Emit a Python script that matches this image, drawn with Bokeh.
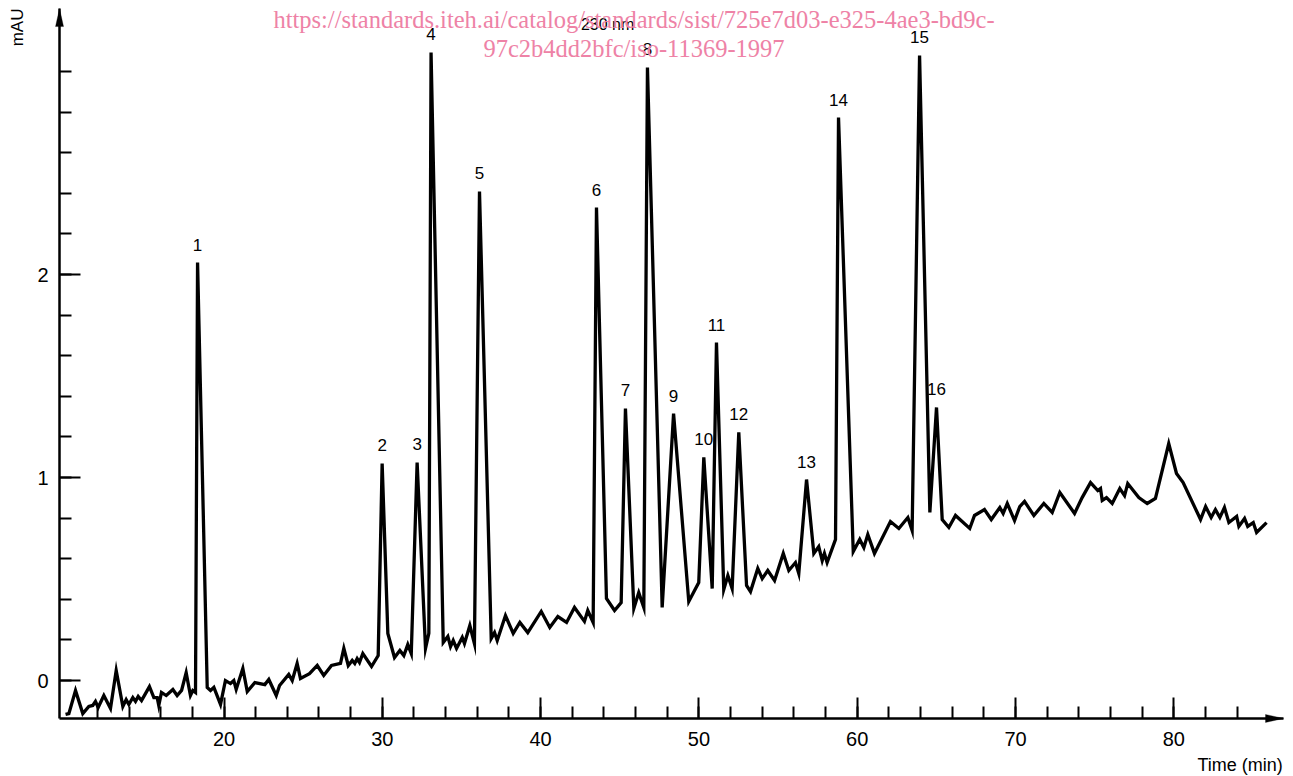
import numpy as np
from bokeh.plotting import figure
from bokeh.models import Range1d, FixedTicker, Label, PolyAnnotation, ColumnDataSource
from bokeh.embed import file_html
from bokeh.resources import INLINE
from bokeh.core.properties import value

# ---- data (time in min, signal in mAU) ----
time_min = [
    9.99, 10.20, 10.62, 11.08, 11.46, 11.71, 11.88, 12.05, 12.41, 12.83,
    13.19, 13.61, 13.82, 13.99, 14.24, 14.41, 14.58, 14.79, 15.29, 15.57,
    15.78, 15.88, 16.05, 16.35, 16.77, 17.04, 17.32, 17.61, 17.88, 18.03,
    18.20, 18.33, 18.94, 19.15, 19.36, 19.78, 20.09, 20.41, 20.62, 20.77,
    21.19, 21.47, 21.95, 22.58, 22.83, 23.30, 23.51, 24.09, 24.31, 24.62,
    24.83, 25.40, 25.89, 26.30, 26.79, 27.36, 27.57, 27.85, 28.10, 28.26,
    28.41, 28.56, 28.77, 29.32, 29.74, 29.99, 30.35, 30.77, 31.11, 31.36,
    31.61, 31.83, 32.20, 32.73, 32.94, 33.08, 33.85, 34.14, 34.31, 34.48,
    34.69, 35.05, 35.19, 35.53, 35.82, 36.14, 36.88, 37.09, 37.26, 37.78,
    38.27, 38.69, 39.19, 40.04, 40.58, 41.09, 41.64, 42.14, 42.77, 42.98,
    43.32, 43.53, 44.16, 44.67, 45.09, 45.36, 45.89, 46.20, 46.52, 46.75,
    47.68, 48.40, 49.36, 49.99, 50.31, 50.84, 51.11, 51.57, 51.83, 52.10,
    52.52, 53.01, 53.26, 53.72, 54.00, 54.35, 54.78, 55.33, 55.68, 56.10,
    56.31, 56.80, 57.26, 57.57, 57.79, 57.93, 58.10, 58.63, 58.82, 59.75,
    60.16, 60.42, 60.67, 61.09, 62.10, 62.63, 63.20, 63.47, 63.94, 64.59,
    65.01, 65.37, 65.79, 66.21, 67.11, 67.41, 68.04, 68.47, 69.01, 69.22,
    69.48, 69.94, 70.27, 70.57, 71.16, 71.79, 72.32, 72.80, 73.73, 74.21,
    74.74, 75.20, 75.37, 75.48, 75.75, 76.11, 76.59, 76.89, 77.09, 77.79,
    78.32, 78.84, 79.68, 80.17, 80.59, 81.69, 82.01, 82.36, 82.63, 82.91,
    83.20, 83.48, 83.97, 84.11, 84.47, 84.67, 85.02, 85.23, 85.86,
]
signal_mau = [
    -0.167, -0.163, -0.049, -0.163, -0.128, -0.123, -0.103, -0.133, -0.074, -0.138,
    0.049, -0.128, -0.094, -0.118, -0.084, -0.103, -0.079, -0.099, -0.030, -0.084,
    -0.084, -0.123, -0.059, -0.074, -0.044, -0.074, -0.049, 0.039, -0.074, -0.049,
    -0.059, 2.059, -0.034, -0.049, -0.034, -0.118, 0.0, -0.015, 0.0, -0.044,
    0.059, -0.054, -0.010, -0.020, 0.005, -0.074, -0.025, 0.030, 0.0, 0.084,
    0.010, 0.034, 0.074, 0.025, 0.074, 0.084, 0.158, 0.074, 0.099, 0.084,
    0.108, 0.089, 0.133, 0.069, 0.123, 1.069, 0.232, 0.113, 0.148, 0.123,
    0.177, 0.133, 1.074, 0.158, 0.232, 3.094, 0.187, 0.217, 0.167, 0.197,
    0.158, 0.212, 0.182, 0.271, 0.182, 2.409, 0.207, 0.236, 0.197, 0.320,
    0.232, 0.286, 0.236, 0.340, 0.261, 0.315, 0.286, 0.360, 0.291, 0.345,
    0.286, 2.330, 0.404, 0.345, 0.384, 1.340, 0.355, 0.433, 0.360, 3.020,
    0.360, 1.315, 0.389, 0.483, 1.099, 0.453, 1.665, 0.448, 0.517, 0.453,
    1.222, 0.468, 0.438, 0.552, 0.502, 0.542, 0.493, 0.626, 0.542, 0.581,
    0.527, 0.990, 0.626, 0.660, 0.591, 0.626, 0.581, 0.695, 2.773, 0.635,
    0.695, 0.655, 0.719, 0.626, 0.783, 0.749, 0.803, 0.739, 3.079, 0.828,
    1.345, 0.793, 0.754, 0.813, 0.749, 0.813, 0.842, 0.793, 0.852, 0.823,
    0.872, 0.788, 0.857, 0.882, 0.813, 0.872, 0.828, 0.926, 0.823, 0.901,
    0.975, 0.936, 0.946, 0.887, 0.901, 0.872, 0.946, 0.911, 0.970, 0.901,
    0.872, 0.897, 1.167, 1.020, 0.975, 0.793, 0.857, 0.803, 0.842, 0.803,
    0.852, 0.778, 0.808, 0.759, 0.798, 0.759, 0.778, 0.729, 0.778,
]

peak_numbers = [str(i) for i in range(1, 17)]
peak_times = [18.33, 29.99, 32.20, 33.08, 36.14, 43.53, 45.36, 46.75,
              48.40, 50.31, 51.11, 52.52, 56.80, 58.82, 63.94, 65.01]

x_major_ticks = [20, 30, 40, 50, 60, 70, 80]
x_minor_ticks = list(range(12, 86, 2))
y_major_ticks = [0, 1, 2]
y_minor_ticks = [round(0.2 * i, 1) for i in range(0, 16)]

wavelength_text = "230 nm"
x_label_text = "Time (min)"
y_label_text = "mAU"
watermark_lines = [
    "https://standards.iteh.ai/catalog/standards/sist/725e7d03-e325-4ae3-bd9c-",
    "97c2b4dd2bfc/iso-11369-1997",
]

# ---- geometry ----
W, H = 1293, 776
PX_PER_MIN = 15.83
PX_PER_MAU = 203.0
XL = 20 - 223.5 / PX_PER_MIN          # time at left canvas edge
XR = XL + W / PX_PER_MIN
YT = 680 / PX_PER_MAU                 # signal at top canvas edge
YB = YT - H / PX_PER_MAU
X0, X1 = 9.61, 86.93                  # x axis extent (arrow tip at X1)
Y0, Y1 = -0.187, 3.31                 # y axis extent (arrow tip at Y1)
FONT = "Liberation Sans"

p = figure(width=W, height=H,
           x_range=Range1d(XL, XR), y_range=Range1d(YB, YT),
           output_backend="svg", toolbar_location=None, min_border=0)
p.outline_line_color = None
p.grid.visible = False
p.background_fill_color = "white"
p.border_fill_color = "white"

xa, ya = p.xaxis[0], p.yaxis[0]
xa.fixed_location = Y0
ya.fixed_location = X0
xa.bounds = (X0, X1)
ya.bounds = (Y0, Y1)
for ax in (xa, ya):
    ax.axis_line_width = 2.5
    ax.axis_line_color = "black"
    ax.major_tick_line_width = 2
    ax.minor_tick_line_width = 2
    ax.major_tick_line_color = "black"
    ax.minor_tick_line_color = "black"
    ax.major_tick_in = 21
    ax.major_tick_out = 0
    ax.minor_tick_in = 12
    ax.minor_tick_out = 0
    ax.major_label_text_font = FONT
    ax.major_label_text_font_size = "20px"
    ax.major_label_text_color = "black"

xa.ticker = FixedTicker(ticks=x_major_ticks, minor_ticks=x_minor_ticks)
ya.ticker = FixedTicker(ticks=y_major_ticks, minor_ticks=y_minor_ticks)
xa.major_label_standoff = 14
ya.major_label_standoff = 11

# chromatogram trace
src = ColumnDataSource(dict(t=time_min, s=signal_mau))
p.line("t", "s", source=src, line_color="black", line_width=3.3, line_join="miter")

# peak numbers
peak_heights = list(np.interp(peak_times, time_min, signal_mau))
lab_src = ColumnDataSource(dict(x=peak_times, y=peak_heights, txt=peak_numbers))
p.text("x", "y", text="txt", source=lab_src, text_align="center",
       text_baseline="alphabetic", y_offset=-18,
       text_font=value(FONT), text_font_size="17px", text_color="black")

# arrow heads on the axes
p.add_layout(PolyAnnotation(xs=[X0, X0 - 4 / PX_PER_MIN, X0 + 4 / PX_PER_MIN],
                            ys=[Y1, Y1 - 18 / PX_PER_MAU, Y1 - 18 / PX_PER_MAU],
                            fill_color="black", fill_alpha=1, line_color="black", line_width=1))
p.add_layout(PolyAnnotation(xs=[X1, X1 - 18 / PX_PER_MIN, X1 - 18 / PX_PER_MIN],
                            ys=[Y0, Y0 + 4 / PX_PER_MAU, Y0 - 4 / PX_PER_MAU],
                            fill_color="black", fill_alpha=1, line_color="black", line_width=1))

# texts
p.add_layout(Label(x=44.23, y=3.232, text=wavelength_text, text_align="center",
                   text_baseline="middle", text_font=FONT, text_font_size="16px",
                   text_color="black"))
p.add_layout(Label(x=84.19, y=-0.414, text=x_label_text, text_align="center",
                   text_baseline="middle", text_font=FONT, text_font_size="18px",
                   text_color="black"))
p.add_layout(Label(x=6.955, y=3.217, text=y_label_text, text_align="center",
                   text_baseline="middle", angle=np.pi / 2, text_font=FONT,
                   text_font_size="17px", text_color="black"))

# pink catalog watermark
for line_text, yv in zip(watermark_lines, [3.256, 3.113]):
    p.add_layout(Label(x=45.90, y=yv, text=line_text, text_align="center",
                       text_baseline="middle", text_font="Liberation Serif",
                       text_font_size="24.5px", text_color="#EE82A6"))

open("out.html", "w").write(file_html(p, INLINE))
